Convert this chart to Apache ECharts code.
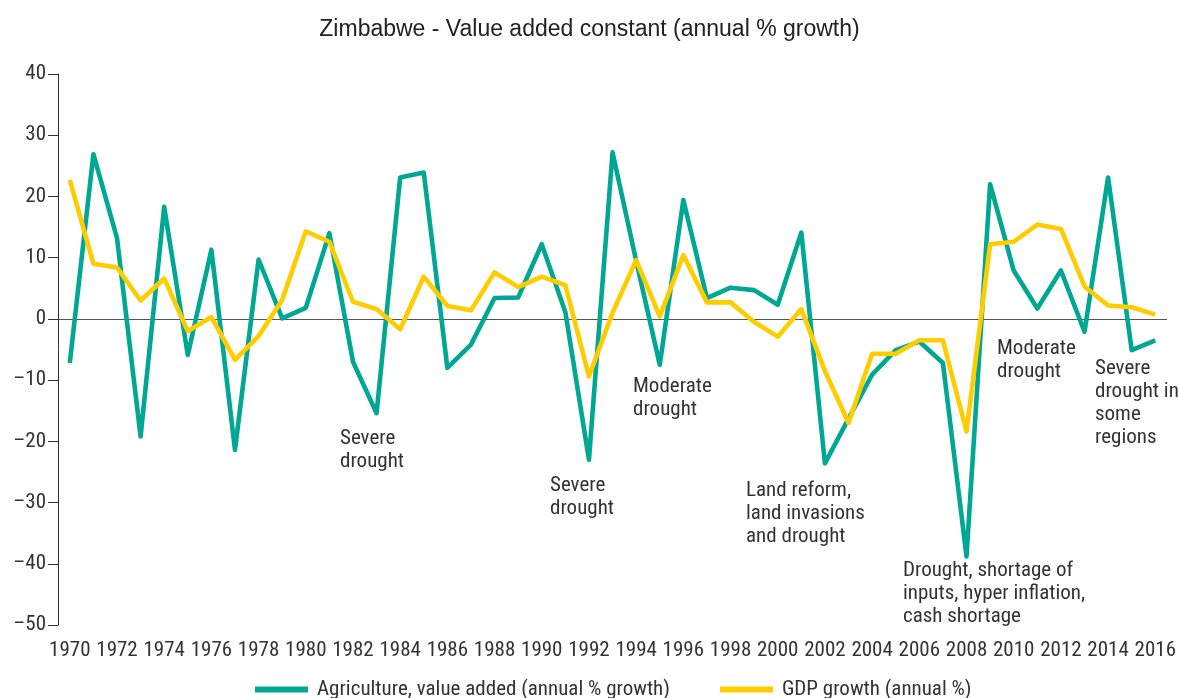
<!DOCTYPE html>
<html>
<head>
<meta charset="utf-8">
<script src="https://cdn.jsdelivr.net/npm/echarts@6/dist/echarts.min.js"></script>
<style>
  html, body { margin: 0; padding: 0; background: #fff; }
  #chart { width: 1179px; height: 698px; }
</style>
</head>
<body>
<div id="chart"></div>
<script>
// years 1970..2016
const years = [
  '1970','1971','1972','1973','1974','1975','1976','1977','1978','1979',
  '1980','1981','1982','1983','1984','1985','1986','1987','1988','1989',
  '1990','1991','1992','1993','1994','1995','1996','1997','1998','1999',
  '2000','2001','2002','2003','2004','2005','2006','2007','2008','2009',
  '2010','2011','2012','2013','2014','2015','2016'
];

// Agriculture, value added (annual % growth)
const agriculture = [
  -7.2, 26.9, 13.2, -19.2, 18.3, -5.9, 11.3, -21.4, 9.7, 0.1,
  1.8, 14.0, -7.0, -15.4, 23.1, 23.9, -8.0, -4.2, 3.4, 3.5,
  12.2, 1.1, -23.0, 27.2, 9.5, -7.5, 19.4, 3.4, 5.1, 4.7,
  2.3, 14.1, -23.6, -16.3, -9.1, -5.1, -3.7, -7.2, -38.8, 22.0,
  7.9, 1.7, 7.9, -2.1, 23.1, -5.1, -3.5
];

// GDP growth (annual %)
const gdp = [
  22.7, 9.0, 8.4, 3.0, 6.6, -2.0, 0.3, -6.7, -2.8, 3.1,
  14.3, 12.6, 2.8, 1.6, -1.7, 6.9, 2.1, 1.4, 7.6, 5.2,
  6.9, 5.5, -9.4, 1.0, 9.6, 0.4, 10.4, 2.7, 2.7, -0.5,
  -2.9, 1.6, -8.5, -17.0, -5.7, -5.7, -3.5, -3.5, -18.4, 12.2,
  12.6, 15.4, 14.7, 5.3, 2.2, 1.9, 0.7
];

const notes = [
  { text: 'Severe\ndrought', x: 340, y: 427 },
  { text: 'Severe\ndrought', x: 550, y: 474 },
  { text: 'Moderate\ndrought', x: 633, y: 375 },
  { text: 'Land reform,\nland invasions\nand drought', x: 746, y: 479 },
  { text: 'Drought, shortage of\ninputs, hyper inflation,\ncash shortage', x: 903, y: 559 },
  { text: 'Moderate\ndrought', x: 997, y: 337 },
  { text: 'Severe\ndrought in\nsome\nregions', x: 1095, y: 357 }
];

const narrow = "'Roboto Condensed', 'DejaVu Sans Condensed', 'Liberation Sans Narrow', sans-serif";
const textColor = '#333';

const chart = echarts.init(document.getElementById('chart'));

const zeroOnly = [];
for (let v = -50; v <= 40; v += 10) zeroOnly.push(v === 0 ? '#555' : 'rgba(0,0,0,0)');

chart.setOption({
  animation: false,
  title: {
    text: 'Zimbabwe - Value added constant (annual % growth)',
    left: 'center',
    top: 13,
    textStyle: { fontFamily: "'Liberation Sans', Arial, sans-serif", fontSize: 23, fontWeight: 'normal', color: '#222' }
  },
  legend: {
    left: 250,
    top: 674,
    itemWidth: 53,
    itemHeight: 6,
    itemGap: 50,
    icon: 'rect',
    textStyle: { fontFamily: narrow, fontSize: 21, color: textColor, padding: [0, 0, 0, 4] },
    data: ['Agriculture, value added (annual % growth)', 'GDP growth (annual %)']
  },
  grid: { left: 58, right: 9, top: 74, bottom: 73, containLabel: false },
  xAxis: {
    type: 'category',
    data: years,
    boundaryGap: true,
    axisLine: { show: false },
    axisTick: { show: false },
    axisLabel: { interval: 1, margin: 15, fontFamily: narrow, fontSize: 21, color: textColor }
  },
  yAxis: {
    type: 'value',
    min: -50,
    max: 40,
    interval: 10,
    axisLine: { show: true, lineStyle: { color: '#333', width: 1 } },
    axisTick: { show: true, length: 10, lineStyle: { color: '#333' } },
    axisLabel: {
      margin: 12,
      fontFamily: narrow,
      fontSize: 21,
      color: textColor,
      formatter: v => String(v).replace('-', '\u2013')
    },
    splitLine: { show: true, lineStyle: { color: zeroOnly, width: 1 } }
  },
  series: [
    {
      name: 'Agriculture, value added (annual % growth)',
      type: 'line',
      data: agriculture,
      symbol: 'none',
      color: '#00A893',
      lineStyle: { width: 4.6, color: '#00A893', join: 'round' }
    },
    {
      name: 'GDP growth (annual %)',
      type: 'line',
      data: gdp,
      symbol: 'none',
      color: '#FFCC00',
      lineStyle: { width: 4.6, color: '#FFCC00', join: 'round' }
    }
  ],
  graphic: notes.map(n => ({
    type: 'text',
    left: n.x,
    top: n.y,
    style: { text: n.text, fontFamily: narrow, fontSize: 21, lineHeight: 23, fill: textColor }
  }))
});
</script>
</body>
</html>
